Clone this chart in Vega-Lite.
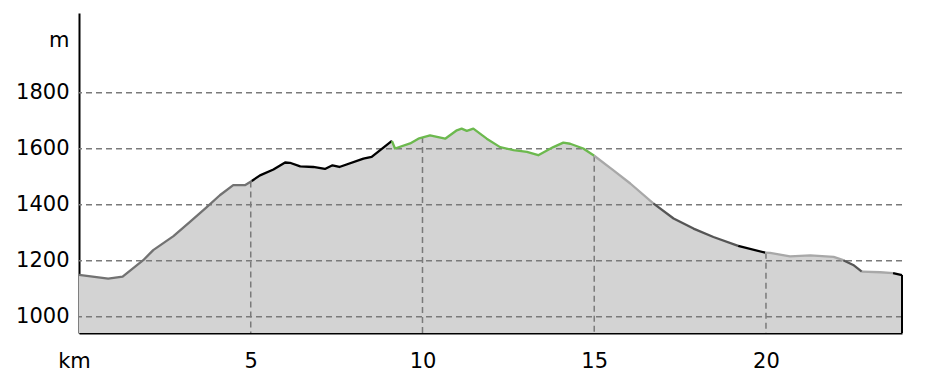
{
  "$schema": "https://vega.github.io/schema/vega-lite/v6.json",
  "width": 823,
  "height": 320,
  "autosize": {"type": "none"},
  "padding": {"left": 79, "top": 13, "right": 35, "bottom": 54},
  "background": "white",
  "config": {"view": {"stroke": null}, "font": "DejaVu Sans"},
  "datasets": {
    "profile": [
      {"km": 0, "ele": 1150, "seg": 1, "surface": "gray"},
      {"km": 0.85, "ele": 1136, "seg": 1, "surface": "gray"},
      {"km": 1.27, "ele": 1143, "seg": 1, "surface": "gray"},
      {"km": 1.87, "ele": 1202, "seg": 1, "surface": "gray"},
      {"km": 2.16, "ele": 1238, "seg": 1, "surface": "gray"},
      {"km": 2.75, "ele": 1288, "seg": 1, "surface": "gray"},
      {"km": 3.23, "ele": 1339, "seg": 1, "surface": "gray"},
      {"km": 3.72, "ele": 1392, "seg": 1, "surface": "gray"},
      {"km": 4.1, "ele": 1434, "seg": 1, "surface": "gray"},
      {"km": 4.49, "ele": 1470, "seg": 1, "surface": "gray"},
      {"km": 4.83, "ele": 1470, "seg": 1, "surface": "gray"},
      {"km": 5.03, "ele": 1485, "seg": 1, "surface": "gray"},
      {"km": 5.03, "ele": 1485, "seg": 2, "surface": "black"},
      {"km": 5.27, "ele": 1505, "seg": 2, "surface": "black"},
      {"km": 5.66, "ele": 1526, "seg": 2, "surface": "black"},
      {"km": 6.0, "ele": 1551, "seg": 2, "surface": "black"},
      {"km": 6.14, "ele": 1550, "seg": 2, "surface": "black"},
      {"km": 6.44, "ele": 1537, "seg": 2, "surface": "black"},
      {"km": 6.82, "ele": 1535, "seg": 2, "surface": "black"},
      {"km": 7.16, "ele": 1528, "seg": 2, "surface": "black"},
      {"km": 7.38, "ele": 1541, "seg": 2, "surface": "black"},
      {"km": 7.58, "ele": 1535, "seg": 2, "surface": "black"},
      {"km": 8.28, "ele": 1565, "seg": 2, "surface": "black"},
      {"km": 8.52, "ele": 1571, "seg": 2, "surface": "black"},
      {"km": 9.11, "ele": 1628, "seg": 2, "surface": "black"},
      {"km": 9.11, "ele": 1628, "seg": 3, "surface": "green"},
      {"km": 9.2, "ele": 1601, "seg": 3, "surface": "green"},
      {"km": 9.64, "ele": 1619, "seg": 3, "surface": "green"},
      {"km": 9.88, "ele": 1636, "seg": 3, "surface": "green"},
      {"km": 10.22, "ele": 1648, "seg": 3, "surface": "green"},
      {"km": 10.66, "ele": 1636, "seg": 3, "surface": "green"},
      {"km": 11.0, "ele": 1666, "seg": 3, "surface": "green"},
      {"km": 11.14, "ele": 1672, "seg": 3, "surface": "green"},
      {"km": 11.29, "ele": 1664, "seg": 3, "surface": "green"},
      {"km": 11.48, "ele": 1672, "seg": 3, "surface": "green"},
      {"km": 11.87, "ele": 1636, "seg": 3, "surface": "green"},
      {"km": 12.26, "ele": 1606, "seg": 3, "surface": "green"},
      {"km": 12.65, "ele": 1595, "seg": 3, "surface": "green"},
      {"km": 13.04, "ele": 1589, "seg": 3, "surface": "green"},
      {"km": 13.37, "ele": 1577, "seg": 3, "surface": "green"},
      {"km": 13.81, "ele": 1606, "seg": 3, "surface": "green"},
      {"km": 14.1, "ele": 1622, "seg": 3, "surface": "green"},
      {"km": 14.3, "ele": 1618, "seg": 3, "surface": "green"},
      {"km": 14.68, "ele": 1601, "seg": 3, "surface": "green"},
      {"km": 15.0, "ele": 1575, "seg": 3, "surface": "green"},
      {"km": 15.0, "ele": 1575, "seg": 4, "surface": "lightgray"},
      {"km": 15.56, "ele": 1523, "seg": 4, "surface": "lightgray"},
      {"km": 16.05, "ele": 1476, "seg": 4, "surface": "lightgray"},
      {"km": 16.72, "ele": 1405, "seg": 4, "surface": "lightgray"},
      {"km": 16.72, "ele": 1405, "seg": 5, "surface": "darkgray"},
      {"km": 17.31, "ele": 1351, "seg": 5, "surface": "darkgray"},
      {"km": 17.89, "ele": 1315, "seg": 5, "surface": "darkgray"},
      {"km": 18.47, "ele": 1285, "seg": 5, "surface": "darkgray"},
      {"km": 19.19, "ele": 1253, "seg": 5, "surface": "darkgray"},
      {"km": 19.19, "ele": 1253, "seg": 6, "surface": "black"},
      {"km": 19.98, "ele": 1229, "seg": 6, "surface": "black"},
      {"km": 19.98, "ele": 1229, "seg": 7, "surface": "lightgray"},
      {"km": 20.12, "ele": 1228, "seg": 7, "surface": "lightgray"},
      {"km": 20.7, "ele": 1216, "seg": 7, "surface": "lightgray"},
      {"km": 21.29, "ele": 1219, "seg": 7, "surface": "lightgray"},
      {"km": 21.97, "ele": 1214, "seg": 7, "surface": "lightgray"},
      {"km": 22.25, "ele": 1202, "seg": 7, "surface": "lightgray"},
      {"km": 22.25, "ele": 1202, "seg": 8, "surface": "darkgray"},
      {"km": 22.54, "ele": 1185, "seg": 8, "surface": "darkgray"},
      {"km": 22.79, "ele": 1161, "seg": 8, "surface": "darkgray"},
      {"km": 22.79, "ele": 1161, "seg": 9, "surface": "lightgray"},
      {"km": 23.33, "ele": 1159, "seg": 9, "surface": "lightgray"},
      {"km": 23.7, "ele": 1156, "seg": 9, "surface": "lightgray"},
      {"km": 23.7, "ele": 1156, "seg": 10, "surface": "black"},
      {"km": 23.96, "ele": 1149, "seg": 10, "surface": "black"}
    ],
    "hgrid": [{"ele": 1000}, {"ele": 1200}, {"ele": 1400}, {"ele": 1600}, {"ele": 1800}],
    "vgrid": [{"km": 5, "ele": 1483}, {"km": 10, "ele": 1642}, {"km": 15, "ele": 1575}, {"km": 20, "ele": 1229}],
    "endpoint": [{"km": 23.96, "ele": 1149}]
  },
  "layer": [
    {
      "data": {"name": "profile"},
      "mark": {"type": "area", "color": "#d3d3d3", "opacity": 1},
      "encoding": {
        "x": {
          "field": "km", "type": "quantitative",
          "scale": {"domain": [0, 23.96], "nice": false, "zero": false},
          "axis": {
            "title": null, "grid": false, "ticks": false,
            "domainColor": "#000000", "domainWidth": 2,
            "values": [0, 5, 10, 15, 20],
            "labelExpr": "datum.value == 0 ? 'km' : datum.label",
            "labelFont": "DejaVu Sans", "labelFontSize": 21, "labelColor": "#000000",
            "labelPadding": 17, "labelFlush": false, "labelOverlap": false,
            "labelOffset": {"condition": {"test": "datum.value == 0", "value": -5}, "value": 0}
          }
        },
        "y": {
          "field": "ele", "type": "quantitative",
          "scale": {"domain": [942, 2085], "nice": false, "zero": false},
          "axis": {
            "title": null, "grid": false, "ticks": false,
            "domainColor": "#000000", "domainWidth": 2,
            "values": [1000, 1200, 1400, 1600, 1800, 1985],
            "labelExpr": "datum.value == 1985 ? 'm' : datum.label",
            "labelFont": "DejaVu Sans", "labelFontSize": 21, "labelColor": "#000000",
            "labelPadding": 10, "labelFlush": false, "labelOverlap": false,
            "format": "d"
          }
        },
        "y2": {"datum": 942}
      }
    },
    {
      "data": {"name": "hgrid"},
      "mark": {"type": "rule", "color": "#7a7a7a", "strokeWidth": 1.5, "strokeDash": [6, 4]},
      "encoding": {"y": {"field": "ele", "type": "quantitative"}}
    },
    {
      "data": {"name": "vgrid"},
      "mark": {"type": "rule", "color": "#7a7a7a", "strokeWidth": 1.5, "strokeDash": [6, 4]},
      "encoding": {
        "x": {"field": "km", "type": "quantitative"},
        "y": {"field": "ele", "type": "quantitative"},
        "y2": {"datum": 942}
      }
    },
    {
      "data": {"name": "profile"},
      "mark": {"type": "line", "strokeWidth": 2.3, "strokeJoin": "round"},
      "encoding": {
        "x": {"field": "km", "type": "quantitative"},
        "y": {"field": "ele", "type": "quantitative"},
        "detail": {"field": "seg", "type": "nominal"},
        "color": {
          "field": "surface", "type": "nominal", "legend": null,
          "scale": {"domain": ["gray", "black", "green", "lightgray", "darkgray"], "range": ["#727272", "#000000", "#6cb94e", "#a8a8a8", "#555555"]}
        }
      }
    },
    {
      "data": {"name": "endpoint"},
      "mark": {"type": "rule", "color": "#000000", "strokeWidth": 2},
      "encoding": {
        "x": {"field": "km", "type": "quantitative"},
        "y": {"field": "ele", "type": "quantitative"},
        "y2": {"datum": 942}
      }
    }
  ]
}
